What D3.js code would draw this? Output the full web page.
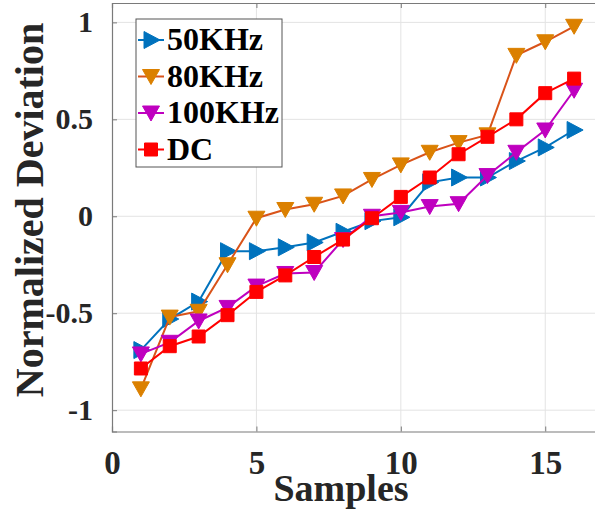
<!DOCTYPE html>
<html>
<head>
<meta charset="utf-8">
<script src="https://cdn.jsdelivr.net/npm/d3@7/dist/d3.min.js"></script>
<style>
  html, body { margin: 0; padding: 0; background: #fff; }
  svg { display: block; }
  text { font-family: "Liberation Serif", "Times New Roman", serif; font-weight: bold; }
</style>
</head>
<body>
<svg id="chart" width="595" height="516"></svg>
<script>
// Sample index shared by every series
const samples = [1, 2, 3, 4, 5, 6, 7, 8, 9, 10, 11, 12, 13, 14, 15, 16];

// Normalized deviation per excitation frequency
const dev50k  = [-0.69, -0.53, -0.44, -0.18, -0.18, -0.16, -0.135, -0.08, -0.025, -0.005, 0.175, 0.20, 0.20, 0.285, 0.355, 0.445];
const dev80k  = [-0.89, -0.52, -0.49, -0.25, -0.01, 0.035, 0.062, 0.105, 0.19, 0.265, 0.33, 0.38, 0.42, 0.83, 0.90, 0.98];
const dev100k = [-0.71, -0.65, -0.54, -0.47, -0.36, -0.295, -0.29, -0.12, 0.0, 0.02, 0.05, 0.065, 0.21, 0.33, 0.445, 0.65];
const devDC   = [-0.785, -0.67, -0.62, -0.51, -0.39, -0.305, -0.21, -0.12, -0.01, 0.10, 0.20, 0.32, 0.41, 0.50, 0.635, 0.71];

const seriesNames = ["50KHz", "80KHz", "100KHz", "DC"];

// Axis ticks and their labels
const xTicks = [0, 5, 10, 15];
const xTickLabels = ["0", "5", "10", "15"];
const yTicks = [-1, -0.5, 0, 0.5, 1];
const yTickLabels = ["-1", "-0.5", "0", "0.5", "1"];

const series = [
  { name: seriesNames[0], values: dev50k,  line: "#0072BD", fill: "#0072BD", marker: "right"  },
  { name: seriesNames[1], values: dev80k,  line: "#D95319", fill: "#DB8000", marker: "down"   },
  { name: seriesNames[2], values: dev100k, line: "#BF00BF", fill: "#BF00BF", marker: "down"   },
  { name: seriesNames[3], values: devDC,   line: "#FF0000", fill: "#FF0000", marker: "square" }
];

const svg = d3.select("#chart");
const plotLeft = 112, plotTop = 3, plotBottom = 431.5, plotRight = 603;

const x = d3.scaleLinear().domain([0, 17]).range([plotLeft, plotRight]);
const y = d3.scaleLinear().domain([-1.11, 1.1]).range([plotBottom, plotTop]);

// Grid
const grid = svg.append("g").attr("stroke", "#e3e3e3").attr("stroke-width", 1);
grid.selectAll("line.gx").data(xTicks.filter(d => d > 0)).join("line").attr("class", "gx")
  .attr("x1", d => x(d)).attr("x2", d => x(d)).attr("y1", plotTop).attr("y2", plotBottom);
grid.selectAll("line.gy").data(yTicks).join("line").attr("class", "gy")
  .attr("y1", d => y(d)).attr("y2", d => y(d)).attr("x1", plotLeft).attr("x2", plotRight);

// Axes (ticks point inward, box on)
const axisColor = "#7a7a7a";
const xAxis = svg.append("g").attr("transform", `translate(0,${plotBottom})`)
  .call(d3.axisBottom(x).tickValues(xTicks).tickSize(-5).tickPadding(19)
    .tickFormat((d, i) => xTickLabels[i]));
const yAxis = svg.append("g").attr("transform", `translate(${plotLeft},0)`)
  .call(d3.axisLeft(y).tickValues(yTicks).tickSize(-5).tickPadding(19)
    .tickFormat((d, i) => yTickLabels[i]));
const xTop = svg.append("g").attr("transform", `translate(0,${plotTop})`)
  .call(d3.axisTop(x).tickValues(xTicks).tickSize(-5).tickFormat(""));

[xAxis, yAxis, xTop].forEach(g => {
  g.select(".domain").attr("stroke", axisColor).attr("stroke-width", 1.2);
  g.selectAll(".tick line").attr("stroke", axisColor).attr("stroke-width", 1);
});
xAxis.selectAll(".tick text").attr("font-size", 33).attr("fill", "#262626")
  .attr("font-family", "Liberation Serif").attr("font-weight", "bold");
yAxis.selectAll(".tick text").attr("font-size", 30).attr("fill", "#262626")
  .attr("font-family", "Liberation Serif").attr("font-weight", "bold");

// Axis titles
svg.append("text").attr("x", 341).attr("y", 501).attr("text-anchor", "middle")
  .attr("font-size", 38).attr("fill", "#262626").text("Samples");
svg.append("text").attr("transform", "translate(43,210) rotate(-90)")
  .attr("text-anchor", "middle").attr("font-size", 40).attr("fill", "#262626")
  .text("Normalized Deviation");

// Marker shapes
function markerPath(kind) {
  if (kind === "right") return "M-7,-8.5L9,0L-7,8.5Z";
  if (kind === "down") return "M-8.5,-7L8.5,-7L0,8Z";
  return "M-6.5,-6.5H6.5V6.5H-6.5Z";
}

const line = d3.line().x((d, i) => x(samples[i])).y(d => y(d));

series.forEach(s => {
  const g = svg.append("g");
  g.append("path").attr("d", line(s.values)).attr("fill", "none")
    .attr("stroke", s.line).attr("stroke-width", 2);
  g.selectAll("path.m").data(s.values).join("path").attr("class", "m")
    .attr("transform", (d, i) => `translate(${x(samples[i])},${y(d)})`)
    .attr("d", markerPath(s.marker)).attr("fill", s.fill).attr("stroke", s.fill)
    .attr("stroke-width", 1);
});

// Legend
const lg = svg.append("g");
lg.append("rect").attr("x", 136).attr("y", 19).attr("width", 146).attr("height", 148)
  .attr("fill", "#fff").attr("stroke", "#555").attr("stroke-width", 1);
series.forEach((s, i) => {
  const cy = 40 + i * 36.5;
  lg.append("line").attr("x1", 138).attr("x2", 164).attr("y1", cy).attr("y2", cy)
    .attr("stroke", s.line).attr("stroke-width", 2);
  lg.append("path").attr("transform", `translate(151,${cy})`).attr("d", markerPath(s.marker))
    .attr("fill", s.fill).attr("stroke", s.fill);
  lg.append("text").attr("x", 167).attr("y", cy + 10).attr("font-size", 32)
    .attr("fill", "#000").text(s.name);
});
</script>
</body>
</html>
